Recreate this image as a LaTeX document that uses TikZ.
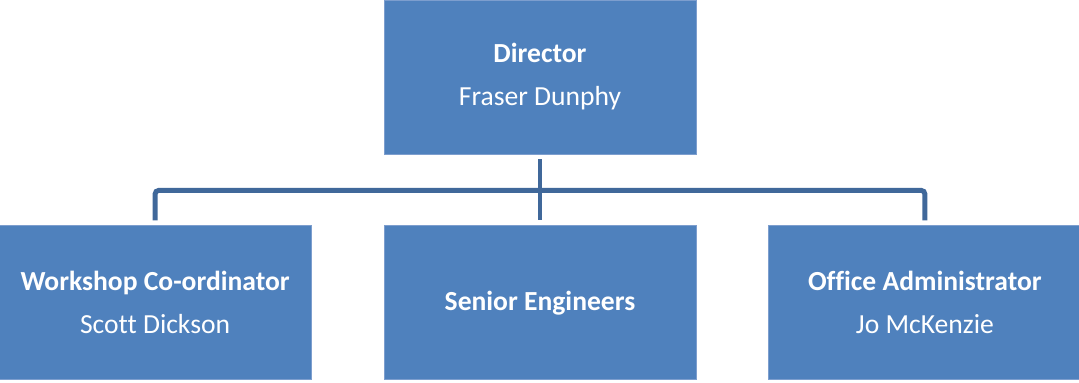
\documentclass[tikz,border=0pt]{standalone}
\usepackage{fontspec}
\setmainfont{Carlito}[Ligatures=NoCommon]
\usepackage{tikz}
\usetikzlibrary{positioning}
\definecolor{BoxBlue}{RGB}{79,129,189}
\definecolor{EdgeBlue}{RGB}{125,158,206}
\definecolor{LinkBlue}{RGB}{64,104,154}

\begin{document}
\begin{tikzpicture}[
  post/.style={draw=EdgeBlue, line width=0.5pt, fill=BoxBlue, text=white,
               minimum width=6.24cm, minimum height=3.08cm,
               inner sep=0pt, align=center,
               font=\fontsize{15.7}{24.5}\selectfont},
  link/.style={draw=LinkBlue, line width=2.8pt, rounded corners=2pt},
]
\useasboundingbox (0,0) rectangle (21.58,-7.66);

\node[post] (director) at (10.8,-1.54) {\textbf{Director}\\Fraser Dunphy};
\node[post, below=1.42cm of director]    (engineers) {\textbf{Senior Engineers}};
\node[post, left=1.44cm of engineers]    (workshop)  {\textbf{Workshop Co-ordinator}\\Scott Dickson};
\node[post, right=1.44cm of engineers]   (office)    {\textbf{Office Administrator}\\Jo McKenzie};

% reporting lines
\draw[link] ([yshift=0.1cm]workshop.north) -- ++(0,0.6) -| ([yshift=0.1cm]office.north);
\draw[link] ([yshift=-0.1cm]director.south) -- ([yshift=0.1cm]engineers.north);
\end{tikzpicture}
\end{document}
